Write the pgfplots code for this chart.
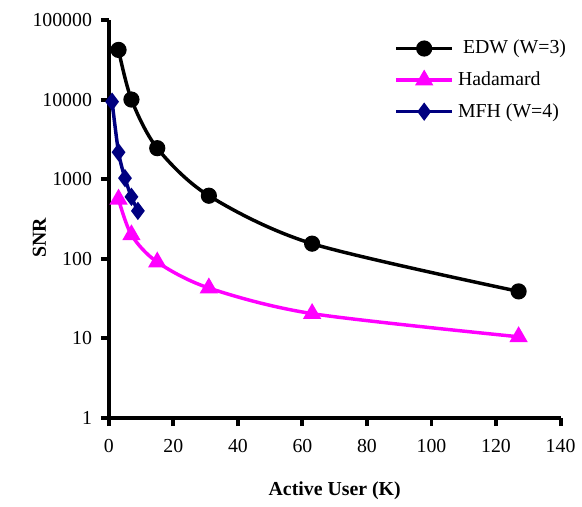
\documentclass[border=0pt]{standalone}
\usepackage{fontspec}
\setmainfont{Liberation Serif}
\usepackage{pgfplots}
\pgfplotsset{compat=1.18}
\definecolor{hadamard}{RGB}{255,0,255}
\definecolor{mfh}{RGB}{0,0,128}
\begin{document}
\begin{tikzpicture}
\begin{axis}[
  scale only axis, width=228pt, height=201pt,
  ymode=log, xmin=0, xmax=140, ymin=1, ymax=100000,
  xtick={0,20,...,140},
  ytick={1,10,100,1000,10000,100000},
  yticklabels={1,10,100,1000,10000,100000},
  axis lines=left, axis line style={line width=2pt,-},
  xtick pos=bottom, ytick pos=left,
  tick align=outside, major tick length=4pt,
  every tick/.append style={black, line width=2pt},
  minor tick num=0,
  every minor tick/.style={draw=none},
  /pgf/number format/assume math mode=true,
  tick label style={font=\fontsize{10}{12}\selectfont},
  xticklabel style={yshift=-3pt},
  yticklabel style={xshift=-1pt},
  xlabel={\textbf{Active User (K)}}, ylabel={\textbf{SNR}},
  label style={font=\fontsize{10}{12}\selectfont},
  xlabel style={yshift=-8pt},
  ylabel style={at={(axis description cs:-0.154,0.453)}, anchor=center},
  legend style={draw=none, fill=none, at={(1.035,0.97)}, anchor=north east,
    font=\fontsize{10}{12}\selectfont, row sep=3.5pt, cells={anchor=west}},
  legend image code/.code={
    \draw[#1] (0cm,0cm) -- (1cm,0cm);
    \draw[#1,mark repeat=2,mark phase=2] plot coordinates {(0cm,0cm)(0.5cm,0cm)(1cm,0cm)};
  },
  clip=false,
]
\addplot[black, line width=1.75pt, smooth, mark=*, mark size=3.2pt] coordinates {
  (3,42000)(7,10000)(15,2450)(31,620)(63,155)(127,39)
};
\addlegendentry{\ EDW (W=3)}
\addplot[hadamard, line width=1.75pt, smooth, mark=triangle*, mark size=3.6pt] coordinates {
  (3,560)(7,200)(15,91)(31,43)(63,20.5)(127,10.5)
};
\addlegendentry{Hadamard}
\addplot[mfh, line width=1.75pt, smooth, mark=diamond*, mark size=3.2pt] coordinates {
  (1,9400)(3,2180)(5,1030)(7,600)(9,400)
};
\addlegendentry{MFH (W=4)}
% page margins as in the reference
\path (rel axis cs:-0.241,-0.199) (rel axis cs:1.037,1.05);
\end{axis}
\end{tikzpicture}
\end{document}
